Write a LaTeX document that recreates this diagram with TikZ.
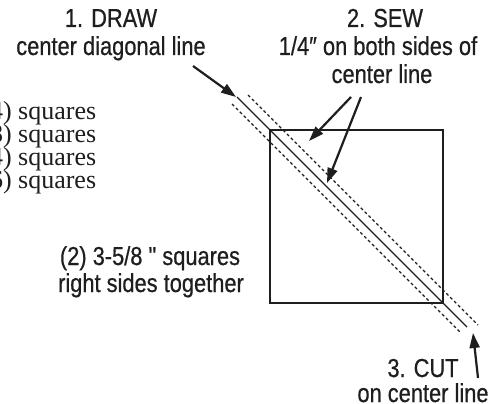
\documentclass[tikz,border=0pt]{standalone}
\usepackage{fontspec}
\setmainfont{Liberation Serif}
\newfontfamily\cond[FakeStretch=0.84,FakeBold=0.6]{Liberation Sans}
\usetikzlibrary{arrows.meta}
\definecolor{ink}{HTML}{1E1E1E}
\begin{document}
\begin{tikzpicture}[x=1pt,y=-1pt,
  lbl/.style={font=\cond\fontsize{26}{28}\selectfont, text=ink, inner sep=0pt, anchor=base},
  ser/.style={font=\fontsize{26}{28}\selectfont, text=ink, inner sep=0pt, anchor=base west},
  ptr/.style={draw=ink, line width=2.2pt, -{Triangle[length=15pt,width=10pt]}},
  cutline/.style={draw=ink, line width=1.3pt},
  sewline/.style={draw=ink, line width=1.1pt, dash pattern=on 3pt off 2.5pt},
  sqbox/.style={draw=ink, line width=1.4pt, minimum size=173pt, inner sep=0pt}]
\clip (0,0) rectangle (490,404);
\fill[white] (0,0) rectangle (490,404);

% labels
\node[lbl] (draw) at (111,27) {1. DRAW};
\node[lbl] (drawb) at (111,55) {center diagonal line};
\node[lbl] (sew) at (385,27) {2. SEW};
\node[lbl] (sewb) at (378,55) {1/4″ on both sides of};
\node[lbl] (sewc) at (382,83) {center line};
\node[lbl] (sq1) at (150,265) {(2) 3-5/8 " squares};
\node[lbl] (sq2) at (151,292) {right sides together};
\node[lbl] (cut) at (423,377) {3. CUT};
\node[lbl] (cutb) at (423,402) {on center line};

% clipped serif list
\node[ser] (l1) at (18,119) {\llap{(4) }squares};
\node[ser] (l2) at (18,142) {\llap{(8) }squares};
\node[ser] (l3) at (18,165) {\llap{(4) }squares};
\node[ser] (l4) at (18,188) {\llap{(16) }squares};

% square
\node[sqbox] (sq) at (356.5,216.5) {};

% diagonal lines
\coordinate (c1) at (237,97);  \coordinate (c2) at (467,327);
\coordinate (u1) at (248,95);  \coordinate (u2) at (478,325);
\coordinate (w1) at (232,104); \coordinate (w2) at (460,332);
\draw[cutline] (c1) -- (c2);
\draw[sewline] (u1) -- (u2);
\draw[sewline] (w1) -- (w2);

% arrows
\coordinate (da) at (193,66);  \coordinate (db) at (236,97);
\draw[ptr] (da) -- (db);
\coordinate (sa) at (351,97);  \coordinate (sb) at (309,141);
\coordinate (ta) at (361,97);  \coordinate (tb) at (327,183);
\draw[ptr] (sa) -- (sb);
\draw[ptr] (ta) -- (tb);
\coordinate (ka) at (478,378); \coordinate (kb) at (473,333);
\draw[ptr] (ka) -- (kb);
\end{tikzpicture}
\end{document}
